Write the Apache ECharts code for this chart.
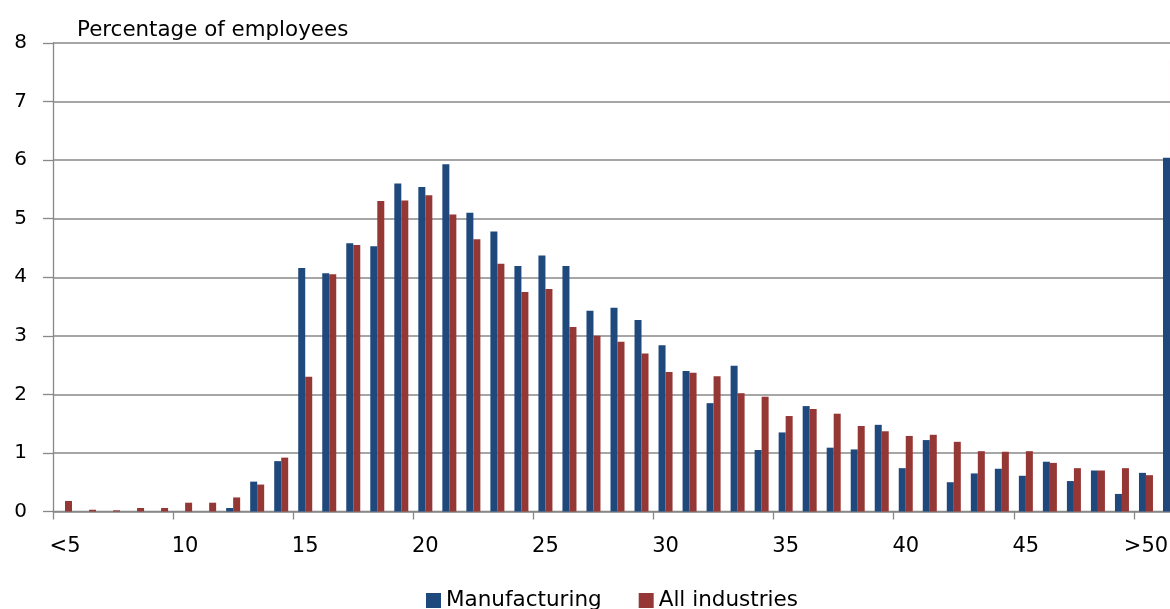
<!DOCTYPE html>
<html>
<head>
<meta charset="utf-8">
<script src="https://cdn.jsdelivr.net/npm/echarts@6/dist/echarts.min.js"></script>
<style>
  html, body { margin: 0; padding: 0; background: #fff; overflow: hidden; }
  #chart { width: 1200px; height: 609px; }
</style>
</head>
<body>
<div id="chart"></div>
<script>
// Categories (age in years); label shown every 5th category
const categories = ["<5","6","7","8","9","10","11","12","13","14","15","16","17","18","19","20",
  "21","22","23","24","25","26","27","28","29","30","31","32","33","34","35","36","37","38","39",
  "40","41","42","43","44","45","46","47","48","49",">50",""];

const manufacturing = [0,0,0,0,0,0,0,0.06,0.51,0.86,4.16,4.07,4.58,4.53,5.60,5.54,5.93,5.10,4.78,4.19,
  4.37,4.19,3.43,3.48,3.27,2.84,2.40,1.85,2.49,1.05,1.35,1.80,1.09,1.06,1.48,0.74,1.22,0.50,0.65,0.73,
  0.61,0.85,0.52,0.70,0.30,0.66,6.04];

const allIndustries = [0.18,0.03,0.02,0.06,0.06,0.15,0.15,0.24,0.46,0.92,2.30,4.05,4.55,5.30,5.31,5.40,
  5.07,4.65,4.23,3.75,3.80,3.15,3.00,2.90,2.70,2.38,2.37,2.31,2.02,1.96,1.63,1.75,1.67,1.46,1.37,1.29,
  1.31,1.19,1.03,1.02,1.03,0.83,0.74,0.70,0.74,0.62,7.71];

const seriesNames = ["Manufacturing", "All industries"];
const yTitle = "Percentage of employees";

const FONT = "DejaVu Sans";
const GRAY = "#888888";

const chart = echarts.init(document.getElementById('chart'), null, { renderer: 'canvas' });
chart.setOption({
  animation: false,
  backgroundColor: '#ffffff',
  title: {
    text: yTitle,
    left: 77, top: 20, padding: 0,
    textStyle: { fontFamily: FONT, fontSize: 21.4, fontWeight: 'normal', color: '#000' }
  },
  legend: {
    data: seriesNames,
    left: 426, top: 589.5, padding: 0,
    itemWidth: 15, itemHeight: 15, itemGap: 37,
    icon: 'rect',
    textStyle: { fontFamily: FONT, fontSize: 21.5, color: '#000' }
  },
  grid: { left: 53, top: 43, width: 1129, height: 468.5, containLabel: false, outerBoundsMode: 'none' },
  xAxis: {
    type: 'category',
    data: categories,
    boundaryGap: true,
    axisLine: { show: true, lineStyle: { color: GRAY, width: 1.3 } },
    axisTick: { show: true, interval: 4, length: 8, lineStyle: { color: GRAY, width: 1.3 } },
    axisLabel: { interval: 4, margin: 25, fontFamily: FONT, fontSize: 21, color: '#000' },
    splitLine: { show: false }
  },
  yAxis: {
    type: 'value',
    min: 0, max: 8, interval: 1,
    axisLine: { show: true, lineStyle: { color: GRAY, width: 1.3 } },
    axisTick: { show: true, length: 10, lineStyle: { color: GRAY, width: 1.3 } },
    axisLabel: { margin: 26, fontFamily: FONT, fontSize: 20, color: '#000' },
    splitLine: { show: true, lineStyle: { color: GRAY, width: 1.5 } }
  },
  series: [
    { name: seriesNames[0], type: 'bar', data: manufacturing, barWidth: 7, barGap: '0%',
      itemStyle: { color: '#1F497D' } },
    { name: seriesNames[1], type: 'bar', data: allIndustries, barWidth: 7, barGap: '0%',
      itemStyle: { color: '#953735' } }
  ]
});
</script>
</body>
</html>
